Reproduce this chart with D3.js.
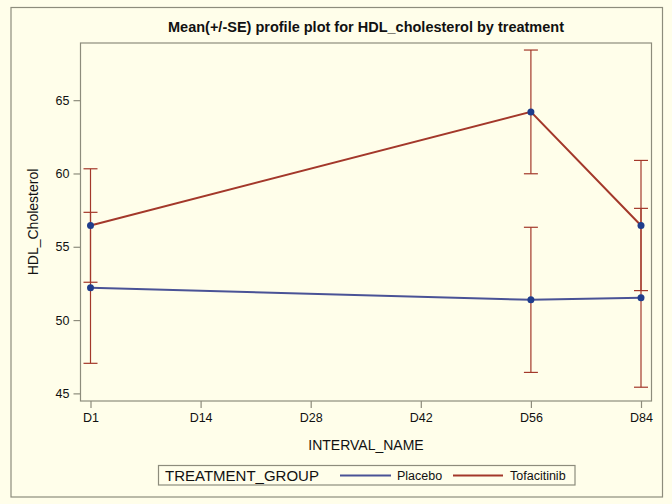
<!DOCTYPE html>
<html>
<head>
<meta charset="utf-8">
<script src="https://cdn.jsdelivr.net/npm/d3@7"></script>
<style>
  html, body { margin: 0; padding: 0; background: #fffeea; }
  svg { display: block; font-family: "Liberation Sans", Arial, sans-serif; }
</style>
</head>
<body>
<svg id="chart" width="672" height="504"></svg>
<script>
// visit labels (categorical x axis)
const intervals = ['D1', 'D14', 'D28', 'D42', 'D56', 'D84'];
const yTicks = [45, 50, 55, 60, 65];

// observed visits and mean / SE per treatment
const visits = ['D1', 'D56', 'D84'];
const placeboMean = [52.2, 51.38, 51.52];
const placeboSE = [5.15, 4.95, 6.1];
const tofaMean = [56.45, 64.2, 56.45];
const tofaSE = [3.87, 4.22, 4.44];

const groups = [
  { name: 'Placebo', color: '#4a5396', mean: placeboMean, se: placeboSE },
  { name: 'Tofacitinib', color: '#a3382a', mean: tofaMean, se: tofaSE },
];

const errColor = '#a3382a';
const markColor = '#1f3d8c';
const frameColor = '#8d8c7c';

const svg = d3.select('#chart');
svg.append('rect').attr('width', 672).attr('height', 504).attr('fill', '#fffeea');

// outer frame
svg.append('rect')
  .attr('x', 11).attr('y', 7.5).attr('width', 651.5).attr('height', 489.5)
  .attr('fill', 'none').attr('stroke', frameColor).attr('stroke-width', 1.2);

const plot = { left: 80.5, right: 651.5, top: 43, bottom: 401 };

const x = d3.scalePoint().domain(intervals).range([90.5, 641]);
const y = d3.scaleLinear().domain([44.48, 68.9]).range([plot.bottom, plot.top]);

// plot frame
svg.append('rect')
  .attr('x', plot.left).attr('y', plot.top)
  .attr('width', plot.right - plot.left).attr('height', plot.bottom - plot.top)
  .attr('fill', 'none').attr('stroke', frameColor).attr('stroke-width', 1.2);

// title
svg.append('text')
  .attr('x', 366).attr('y', 32)
  .attr('text-anchor', 'middle')
  .attr('font-size', 14.5).attr('font-weight', 'bold').attr('fill', '#111')
  .text('Mean(+/-SE) profile plot for HDL_cholesterol by treatment');

// axes
const xAxis = svg.append('g')
  .attr('transform', `translate(0,${plot.bottom})`)
  .call(d3.axisBottom(x).tickSize(7).tickPadding(5));
const yAxis = svg.append('g')
  .attr('transform', `translate(${plot.left},0)`)
  .call(d3.axisLeft(y).tickValues(yTicks).tickSize(7).tickPadding(4));

[xAxis, yAxis].forEach(a => {
  a.select('.domain').remove();
  a.selectAll('line').attr('stroke', frameColor).attr('stroke-width', 1.2);
  a.selectAll('text').attr('font-size', 12.5).attr('fill', '#111')
    .attr('font-family', '"Liberation Sans", Arial, sans-serif');
});

// axis labels
svg.append('text')
  .attr('x', 366).attr('y', 450)
  .attr('text-anchor', 'middle').attr('font-size', 14).attr('fill', '#111')
  .text('INTERVAL_NAME');
svg.append('text')
  .attr('transform', `translate(38,222) rotate(-90)`)
  .attr('text-anchor', 'middle').attr('font-size', 14).attr('fill', '#111')
  .text('HDL_Cholesterol');

const line = d3.line().x(d => x(d.visit)).y(d => y(d.mean));

groups.forEach(g => {
  const pts = visits.map((v, i) => ({ visit: v, mean: g.mean[i], se: g.se[i] }));

  svg.append('path')
    .datum(pts)
    .attr('d', line)
    .attr('fill', 'none').attr('stroke', g.color).attr('stroke-width', 2);

  const bars = svg.append('g').selectAll('g')
    .data(pts).join('g')
    .attr('stroke', errColor).attr('stroke-width', 1.2);
  bars.append('line')
    .attr('x1', d => x(d.visit)).attr('x2', d => x(d.visit))
    .attr('y1', d => y(d.mean - d.se)).attr('y2', d => y(d.mean + d.se));
  bars.append('line')
    .attr('x1', d => x(d.visit) - 7).attr('x2', d => x(d.visit) + 7)
    .attr('y1', d => y(d.mean + d.se)).attr('y2', d => y(d.mean + d.se));
  bars.append('line')
    .attr('x1', d => x(d.visit) - 7).attr('x2', d => x(d.visit) + 7)
    .attr('y1', d => y(d.mean - d.se)).attr('y2', d => y(d.mean - d.se));

  g.pts = pts;
});

// markers on top
groups.forEach(g => {
  svg.append('g').selectAll('circle')
    .data(g.pts).join('circle')
    .attr('cx', d => x(d.visit)).attr('cy', d => y(d.mean))
    .attr('r', 3.5).attr('fill', markColor);
});

// legend
const leg = svg.append('g');
leg.append('rect')
  .attr('x', 158.5).attr('y', 465.5).attr('width', 416.5).attr('height', 19.5)
  .attr('fill', 'none').attr('stroke', frameColor).attr('stroke-width', 1.2);
leg.append('text')
  .attr('x', 165).attr('y', 481).attr('font-size', 15).attr('fill', '#111')
  .text('TREATMENT_GROUP');
const legItems = [
  { x1: 340, x2: 391, tx: 397 },
  { x1: 453, x2: 503, tx: 510 },
];
groups.forEach((g, i) => {
  const it = legItems[i];
  leg.append('line')
    .attr('x1', it.x1).attr('x2', it.x2).attr('y1', 475.5).attr('y2', 475.5)
    .attr('stroke', g.color).attr('stroke-width', 2);
  leg.append('text')
    .attr('x', it.tx).attr('y', 480).attr('font-size', 12.5).attr('fill', '#111')
    .text(g.name);
});
</script>
</body>
</html>
